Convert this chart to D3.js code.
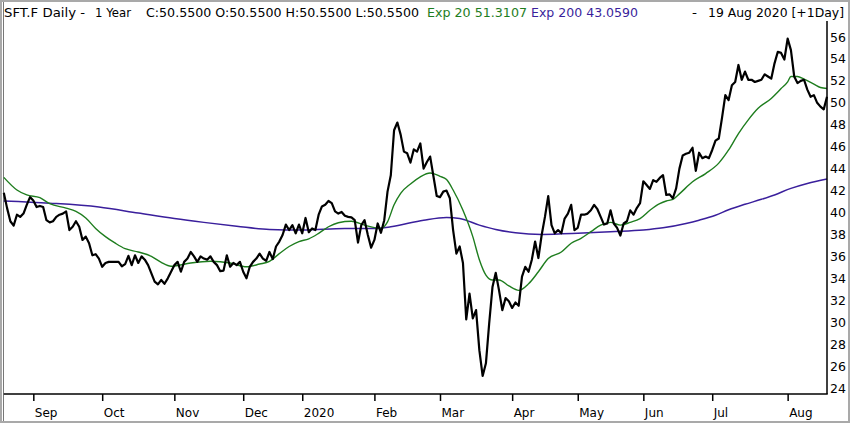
<!DOCTYPE html>
<html>
<head>
<meta charset="utf-8">
<script src="https://cdn.jsdelivr.net/npm/d3@7/dist/d3.min.js"></script>
<style>
  body { margin: 0; background: #fff; }
  svg { display: block; font-family: "DejaVu Sans", sans-serif; }
</style>
</head>
<body>
<svg id="chart"></svg>
<script>
// trading calendar (Frankfurt)
var firstDay = '2019-08-20',
	lastDay = '2020-08-19';
var holidays = ['2019-10-03', '2019-12-24', '2019-12-25', '2019-12-26', '2019-12-31',
	'2020-01-01', '2020-04-10', '2020-04-13', '2020-05-01', '2020-06-01'];

// daily close, one per trading day
var closes = [
	41.8, 40.4, 39.2, 38.8, 39.8, 39.6, 39.9, 40.7, 41.4, 41.1,
	40.5, 40.6, 40.5, 39.3, 39.1, 39.2, 39.6, 39.8, 39.9, 40.1,
	38.4, 38.7, 39.2, 38.7, 37.5, 37.8, 37.2, 36.1, 36.2, 35.8,
	35.05, 35.4, 35.5, 35.5, 35.5, 35.5, 35.1, 35.3, 36.05, 35.2,
	36.1, 35.4, 36.0, 35.7, 35.2, 34.45, 33.7, 33.45, 33.85, 33.5,
	34.0, 34.6, 35.2, 35.5, 34.6, 35.5, 35.8, 36.4, 36.0, 35.5,
	36.0, 35.8, 35.7, 36.0, 35.5, 35.2, 34.65, 34.7, 36.1, 35.05,
	35.4, 35.2, 35.5, 34.6, 34.0, 35.05, 35.5, 35.8, 36.25, 35.8,
	35.6, 36.4, 35.75, 36.9, 37.35, 37.95, 38.9, 38.4, 38.85, 38.1,
	38.9, 38.1, 39.5, 38.2, 38.55, 38.4, 39.8, 40.55, 40.7, 41.05,
	40.85, 40.1, 39.9, 40.05, 39.7, 39.6, 39.55, 39.3, 37.25, 38.85,
	39.3, 37.95, 36.8, 37.5, 39.0, 38.15, 39.3, 41.9, 43.4, 47.5,
	48.2, 47.1, 45.55, 45.4, 44.55, 45.75, 45.55, 46.3, 44.0, 44.6,
	45.1, 43.3, 41.5, 41.4, 41.9, 42.0, 41.3, 38.4, 36.25, 36.9,
	35.4, 30.25, 32.6, 30.35, 31.1, 27.45, 25.1, 26.25, 29.9, 33.2,
	34.5, 32.9, 31.1, 32.2, 31.9, 31.3, 31.8, 31.5, 34.15, 35.05,
	34.6, 35.7, 37.35, 35.85, 37.95, 39.6, 41.5, 38.85, 38.1, 38.4,
	38.1, 39.45, 39.9, 40.7, 38.4, 38.6, 39.8, 39.8, 39.9, 40.2,
	40.7, 40.3, 39.6, 38.9, 39.0, 40.2, 39.0, 38.6, 37.9, 39.0,
	39.2, 40.2, 39.8, 40.4, 40.85, 42.85, 42.5, 42.15, 42.95, 42.8,
	43.15, 43.4, 41.6, 41.65, 41.3, 42.2, 44.0, 45.2, 45.35, 45.45,
	45.9, 43.8, 45.45, 44.95, 45.1, 44.95, 45.7, 46.55, 46.75, 48.65,
	50.7, 50.25, 51.6, 51.9, 53.45, 52.1, 52.85, 52.1, 52.1, 51.9,
	52.0, 52.1, 52.6, 52.4, 52.2, 53.6, 54.65, 54.55, 53.95, 55.85,
	54.8, 52.4, 51.8, 52.0, 52.1, 51.2, 50.55, 50.7, 50.0, 49.65,
	49.4, 50.55
];

// Exp 20, read at these trading-day positions
var ema20Pos = [0, 4, 7, 11, 14, 19, 22, 25, 28, 31, 34, 37, 41, 45, 48, 51, 57, 63, 69, 74,
	78, 81, 84, 87, 90, 93, 96, 99, 102, 106, 110, 115, 117, 119, 121, 124, 127, 130, 133, 135,
	137, 140, 143, 145, 147, 149, 151, 154, 157, 160, 163, 166, 170, 173, 176, 179, 182, 185, 188, 191,
	194, 197, 200, 202, 204, 206, 210, 214, 218, 221, 224, 227, 230, 234, 237, 239, 240, 242, 244, 247,
	249, 251];
var ema20 = [43.2, 42.05, 41.6, 41.35, 40.8, 40.4, 40.1, 39.5, 38.55, 37.8, 37.2, 36.7, 36.4, 36.0, 35.45, 35.1, 35.4, 35.55, 35.4, 35.05,
	35.3, 35.55, 36.25, 36.9, 37.35, 37.6, 38.1, 38.7, 39.07, 39.2, 38.85, 38.55, 39.15, 40.7, 41.75, 42.6, 43.25, 43.6, 43.3, 43.0,
	42.05, 40.2, 37.8, 35.7, 34.3, 33.85, 33.85, 33.3, 32.9, 33.5, 34.6, 35.8, 36.4, 37.2, 37.65, 38.25, 38.85, 39.1, 38.85, 39.1,
	39.45, 40.2, 40.8, 41.05, 41.2, 41.7, 42.8, 43.55, 44.5, 45.7, 47.2, 48.45, 49.5, 50.4, 51.3, 51.9, 52.4, 52.4, 52.15, 51.7,
	51.4, 51.31];

// Exp 200
var ema200Pos = [0, 14, 29, 41, 52, 61, 71, 81, 91, 104, 113, 118, 128, 135, 139, 145, 150, 156, 164, 175,
	185, 195, 201, 208, 212, 217, 221, 226, 231, 235, 240, 245, 251];
var ema200 = [41.05, 40.85, 40.5, 39.95, 39.45, 39.1, 38.75, 38.45, 38.4, 38.55, 38.55, 38.7, 39.3, 39.55, 39.45, 38.85, 38.45, 38.15, 38.0, 38.1,
	38.25, 38.4, 38.6, 39.0, 39.3, 39.75, 40.25, 40.75, 41.2, 41.6, 42.2, 42.65, 43.06];

var monthStarts = ['2019-09-01', '2019-10-01', '2019-11-01', '2019-12-01', '2020-01-01', '2020-02-01',
	'2020-03-01', '2020-04-01', '2020-05-01', '2020-06-01', '2020-07-01', '2020-08-01'];
var monthLabels = ['Sep', 'Oct', 'Nov', 'Dec', '2020', 'Feb', 'Mar', 'Apr', 'May', 'Jun', 'Jul', 'Aug'];
var priceTicks = [24, 26, 28, 30, 32, 34, 36, 38, 40, 42, 44, 46, 48, 50, 52, 54, 56];

var width = 850,
	height = 423,
	plot = {left: 3.8, right: 827, top: 37, bottom: 388, axisY: 394},
	price_color = '#000',
	exp20_color = '#1e7d1e',
	exp200_color = '#3a1f9c';

var parseDay = d3.timeParse('%Y-%m-%d'),
	fmtDay = d3.timeFormat('%Y-%m-%d');

var holidaySet = new Set(holidays);
var tradingDays = d3.timeDay.range(parseDay(firstDay), d3.timeDay.offset(parseDay(lastDay), 1))
	.filter(function(d) { return d.getDay() % 6 !== 0 && !holidaySet.has(fmtDay(d)); });

var monthIdx = monthStarts.map(function(m) {
	return d3.bisector(function(d) { return d; }).left(tradingDays, parseDay(m));
});

var x = d3.scaleLinear().domain([0, tradingDays.length - 1]).range([plot.left, plot.right]);
var y = d3.scaleLinear().domain([24, 56]).range([plot.bottom, plot.top]);

var svg = d3.select('#chart')
	.attr('width', width)
	.attr('height', height);

svg.append('rect')
	.attr('width', width).attr('height', height)
	.attr('fill', '#fff');

// outer frame
svg.append('rect')
	.attr('x', 1).attr('y', 1)
	.attr('width', width - 2).attr('height', height - 2)
	.attr('fill', 'none')
	.attr('stroke', '#a9a9a9')
	.attr('stroke-width', 2);
svg.append('line')
	.attr('x1', 3.5).attr('x2', 3.5)
	.attr('y1', 2).attr('y2', height - 2)
	.attr('stroke', '#777');

// header
var header = svg.append('g').attr('font-size', 12.5);
function headerText(str, xPos, len, color) {
	header.append('text')
		.attr('x', xPos).attr('y', 17)
		.attr('fill', color)
		.attr('textLength', len)
		.attr('lengthAdjust', 'spacingAndGlyphs')
		.text(str);
}
headerText('SFT.F Daily -', 4, 81, '#000');
headerText('1 Year', 95, 36, '#000');
headerText('C:50.5500 O:50.5500 H:50.5500 L:50.5500', 146, 273, '#000');
headerText('Exp 20 51.3107', 427, 100, exp20_color);
headerText('Exp 200 43.0590', 531, 107, exp200_color);
headerText('-', 692, 5, '#000');
headerText('19 Aug 2020 [+1Day]', 708, 136, '#000');

// lines
var priceLine = d3.line()
	.x(function(d, i) { return x(i); })
	.y(function(d) { return y(d); });

var emaLine = d3.line()
	.x(function(d) { return x(d[0]); })
	.y(function(d) { return y(d[1]); })
	.curve(d3.curveMonotoneX);

svg.append('path')
	.datum(d3.zip(ema200Pos, ema200))
	.attr('d', emaLine)
	.attr('fill', 'none')
	.attr('stroke', exp200_color)
	.attr('stroke-width', 1.5);

svg.append('path')
	.datum(d3.zip(ema20Pos, ema20))
	.attr('d', emaLine)
	.attr('fill', 'none')
	.attr('stroke', exp20_color)
	.attr('stroke-width', 1.4);

svg.append('path')
	.datum(closes)
	.attr('d', priceLine)
	.attr('fill', 'none')
	.attr('stroke', price_color)
	.attr('stroke-width', 2.2)
	.attr('stroke-linejoin', 'round');

// bottom axis (months)
var xAxis = d3.axisBottom(x)
	.tickValues(monthIdx)
	.tickSize(7)
	.tickPadding(2)
	.tickFormat(function(d, i) { return monthLabels[i]; });

var gx = svg.append('g')
	.attr('transform', 'translate(0,' + plot.axisY + ')')
	.call(xAxis);
gx.select('.domain').remove();
gx.selectAll('.tick line').attr('stroke', '#000').attr('stroke-width', 1.5);
gx.selectAll('.tick text')
	.attr('font-family', '"DejaVu Sans", sans-serif')
	.attr('font-size', 12)
	.attr('fill', '#000')
	.attr('text-anchor', 'start')
	.attr('x', 1)
	.attr('y', 23)
	.attr('dy', 0);

svg.append('line')
	.attr('x1', plot.left).attr('x2', plot.right + 0.75)
	.attr('y1', plot.axisY).attr('y2', plot.axisY)
	.attr('stroke', '#000')
	.attr('stroke-width', 1.5);

// right axis (price)
var yAxis = d3.axisRight(y)
	.tickValues(priceTicks)
	.tickSize(0)
	.tickPadding(3);

var gy = svg.append('g')
	.attr('transform', 'translate(' + plot.right + ',0)')
	.call(yAxis);
gy.select('.domain').remove();
gy.selectAll('.tick text')
	.attr('font-family', '"DejaVu Sans", sans-serif')
	.attr('font-size', 12.5)
	.attr('fill', '#000');

svg.append('line')
	.attr('x1', plot.right).attr('x2', plot.right)
	.attr('y1', 21).attr('y2', plot.axisY)
	.attr('stroke', '#000')
	.attr('stroke-width', 1.5);
</script>
</body>
</html>
